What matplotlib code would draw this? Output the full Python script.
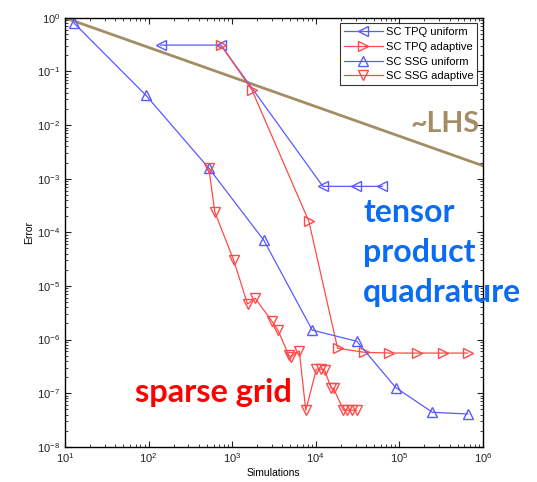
import matplotlib
matplotlib.use("Agg")
import matplotlib.pyplot as plt
import numpy as np
from matplotlib.ticker import LogLocator, NullFormatter, LogFormatterMathtext

plt.rcParams['font.family'] = ['Liberation Sans', 'DejaVu Sans']
plt.rcParams['mathtext.fontset'] = 'custom'
plt.rcParams['mathtext.rm'] = 'Liberation Sans'
plt.rcParams['mathtext.it'] = 'Liberation Sans'

# data
tpq_uni_x = [140, 735, 1.22e4, 3.0e4, 6.3e4]
tpq_uni_y = [0.31, 0.31, 7.2e-4, 7.2e-4, 7.2e-4]

tpq_ad_x = [735, 1730, 8300, 1.83e4, 3.8e4, 7.5e4, 1.62e5, 3.3e5, 6.6e5]
tpq_ad_y = [0.31, 0.045, 1.6e-4, 6.9e-7, 5.8e-7, 5.6e-7, 5.6e-7, 5.6e-7, 5.6e-7]

ssg_uni_x = [12.8, 93, 527, 2400, 9100, 3.1e4, 9.1e4, 2.5e5, 6.6e5]
ssg_uni_y = [0.8, 0.036, 1.57e-3, 7.1e-5, 1.5e-6, 9.3e-7, 1.27e-7, 4.4e-8, 4.1e-8]

ssg_ad_x = [527, 622, 1047, 1530, 1885, 3000, 3540, 4770, 5080, 6370, 7620,
            1.02e4, 1.15e4, 1.28e4, 1.54e4, 1.64e4, 2.15e4, 2.4e4, 2.75e4, 3.1e4]
ssg_ad_y = [1.57e-3, 2.37e-4, 3.0e-5, 4.6e-6, 5.9e-6, 2.2e-6, 1.5e-6, 5.1e-7, 4.8e-7,
            6.1e-7, 4.8e-8, 2.8e-7, 2.8e-7, 2.7e-7, 1.23e-7, 1.23e-7, 4.8e-8, 4.8e-8,
            4.8e-8, 4.8e-8]

lhs_x = [10, 1e6]
lhs_y = [1, 1.75e-3]

blue = '#5a5aff'
red = '#ff4a4a'
brown = '#a38d65'

fig = plt.figure(figsize=(5.37, 4.82), dpi=100)
ax = fig.add_axes([0.121, 0.073, 0.778, 0.89])

ax.plot(lhs_x, lhs_y, color=brown, lw=2, zorder=1)
ms = 6.5
ax.plot(tpq_uni_x, tpq_uni_y, color=blue, lw=0.9, marker='<', ms=ms, mfc='none',
        label='SC TPQ uniform')
ax.plot(tpq_ad_x, tpq_ad_y, color=red, lw=0.9, marker='>', ms=ms, mfc='none',
        label='SC TPQ adaptive')
ax.plot(ssg_uni_x, ssg_uni_y, color=blue, lw=0.9, marker='^', ms=ms, mfc='none',
        label='SC SSG uniform')
ax.plot(ssg_ad_x, ssg_ad_y, color=red, lw=0.9, marker='v', ms=ms, mfc='none',
        label='SC SSG adaptive')

ax.set_xscale('log')
ax.set_yscale('log')
ax.set_xlim(10, 1e6)
ax.set_ylim(1e-8, 1)

for a in (ax.xaxis, ax.yaxis):
    a.set_major_locator(LogLocator(base=10, numticks=20))
    a.set_minor_locator(LogLocator(base=10, subs=np.arange(2, 10), numticks=20))
    a.set_minor_formatter(NullFormatter())
    a.set_major_formatter(LogFormatterMathtext())

ax.tick_params(which='both', direction='in', top=True, right=True, labelsize=8,
               colors='#222222')
ax.tick_params(which='major', length=4)
ax.tick_params(which='minor', length=2)
for s in ax.spines.values():
    s.set_linewidth(1)

ax.set_xlabel('Simulations', fontsize=7.5, labelpad=2)
ax.set_ylabel('Error', fontsize=7.5, labelpad=2)

leg = ax.legend(loc='upper right', fontsize=8, frameon=True, fancybox=False,
                edgecolor='black', handlelength=3.5, borderaxespad=0.5,
                labelspacing=0.42, borderpad=0.35, handletextpad=0.25, numpoints=1)
leg.get_frame().set_linewidth(0.8)

fig.text(0.829, 0.726, '~LHS', color=brown, fontsize=20.5, fontweight='bold',
         family='Lato', ha='center', va='baseline')
tpq_lines = ['tensor', 'product', 'quadrature']
for txt, yb in zip(tpq_lines, [0.539, 0.456, 0.373]):
    fig.text(0.676, yb, txt, color='#0a6cf5', fontsize=23, fontweight='bold',
             family='Lato', ha='left', va='baseline')
fig.text(0.398, 0.165, 'sparse grid', color='#ff0000', fontsize=23.5,
         fontweight='bold', family='Lato', ha='center', va='baseline')

fig.savefig('out.png', dpi=100)
